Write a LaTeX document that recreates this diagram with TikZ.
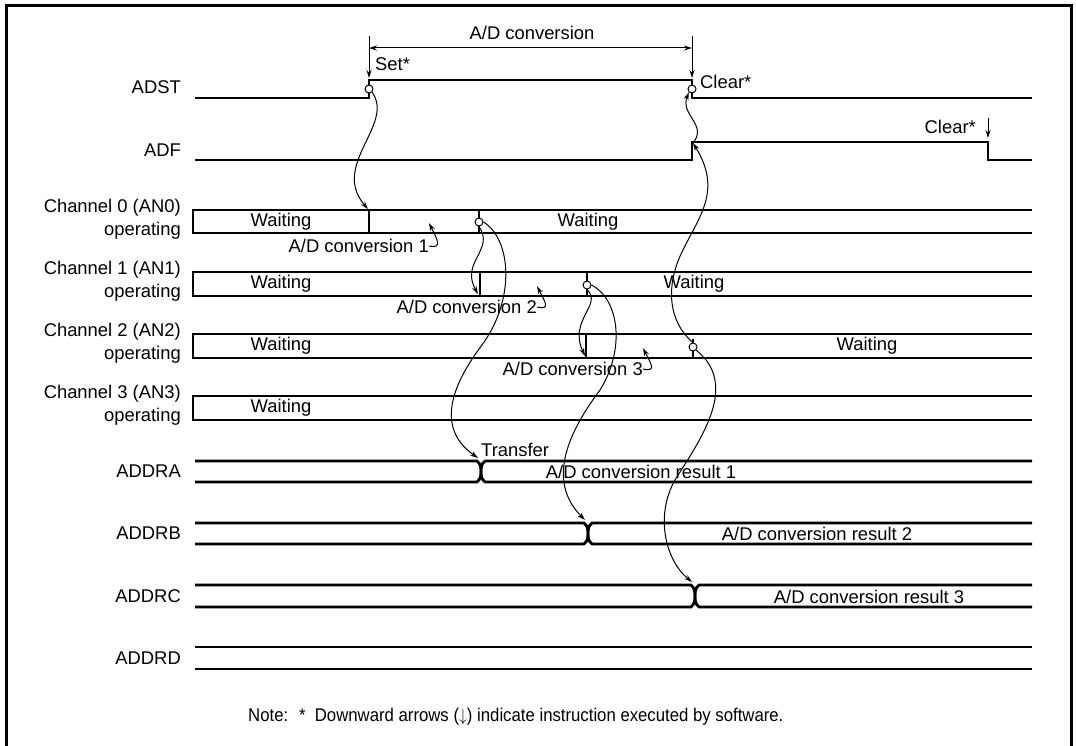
\documentclass[tikz,border=0pt]{standalone}
\usepackage{fontspec}
\setmainfont{Liberation Sans}
\usetikzlibrary{arrows.meta}
\newcommand{\xbusrow}[3]{% top, bottom, crossing x
  \draw[sig] (195,#1) -- (#3-4,#1) .. controls (#3,#1+3) and (#3,{(#1+#2)/2-3}) .. (#3,{(#1+#2)/2})
     .. controls (#3,{(#1+#2)/2+3}) and (#3,#2-3) .. (#3-4,#2) -- (195,#2);
  \draw[sig] (1032,#1) -- (#3+4,#1) .. controls (#3,#1+3) and (#3,{(#1+#2)/2-3}) .. (#3,{(#1+#2)/2})
     .. controls (#3,{(#1+#2)/2+3}) and (#3,#2-3) .. (#3+4,#2) -- (1032,#2);}
\begin{document}
\begin{tikzpicture}[x=1pt,y=-1pt,
  font=\fontsize{18.4}{22.5}\selectfont,
  sig/.style={line width=2.8pt},
  conn/.style={line width=1pt,-{Stealth[length=8pt,width=5pt]}},
  thin/.style={line width=1pt},
  frame/.style={line width=3pt},
  dot/.style={circle,draw,fill=white,inner sep=0pt,minimum size=8pt,line width=1pt},
  lbl/.style={inner sep=0pt},
  rlbl/.style={inner sep=0pt,anchor=east,align=right}]
\useasboundingbox (0,0) rectangle (1076,746);
\draw[frame] (6,746) -- (6,6) -- (1071,6) -- (1071,746);

% ---- row labels
\node[rlbl] (lADST) at (181,87) {ADST};
\node[rlbl] (lADF) at (181,150) {ADF};
\node[rlbl] (lch0) at (181,219) {Channel 0 (AN0)\\operating};
\node[rlbl] (lch1) at (181,281) {Channel 1 (AN1)\\operating};
\node[rlbl] (lch2) at (181,343) {Channel 2 (AN2)\\operating};
\node[rlbl] (lch3) at (181,405) {Channel 3 (AN3)\\operating};
\node[rlbl] (lA) at (181,471) {ADDRA};
\node[rlbl] (lB) at (181,533) {ADDRB};
\node[rlbl] (lC) at (181,596) {ADDRC};
\node[rlbl] (lD) at (181,658) {ADDRD};

% ---- ADST / ADF
\draw[sig] (195,98) -- (369,98) -- (369,80) -- (692,80) -- (692,98) -- (1032,98);
\draw[sig] (195,160) -- (692,160) -- (692,142) -- (988,142) -- (988,160) -- (1032,160);
\node[dot] (sset) at (369,89) {};
\node[dot] (sclr) at (692,89) {};
\coordinate (adfrise) at (693,143);

% ---- A/D conversion dimension
\coordinate (t1) at (369,36);
\coordinate (t2) at (692,36);
\coordinate (a1) at (369,78);
\coordinate (a2) at (692,78);
\draw[conn] (t1) -- (a1);
\draw[conn] (t2) -- (a2);
\draw[thin,{Stealth[length=8pt,width=5pt]}-{Stealth[length=8pt,width=5pt]}] (369,48) -- (692,48);
\node[lbl] (adconv) at (532,33) {A/D conversion};
\node[lbl,anchor=west] (set) at (375,64) {Set*};
\node[lbl,anchor=west] (clr1) at (700,82) {Clear*};
\node[lbl,anchor=east] (clr2) at (976,127) {Clear*};
\coordinate (ca) at (988,118);
\coordinate (cb) at (988,138);
\draw[conn] (ca) -- (cb);

% ---- channel bars
\foreach \t/\b in {210/233, 272/296, 334/358, 396/420}{
  \draw[sig] (1032,\t) -- (193,\t) -- (193,\b) -- (1032,\b);
}
% dividers
\draw[sig] (369,210) -- (369,233);
\draw[sig] (479,210) -- (479,233);
\draw[sig] (480,272) -- (480,296);
\draw[sig] (587,272) -- (587,296);
\draw[sig] (586,334) -- (586,358);
\draw[sig] (693,339) -- (693,358);
\coordinate (d0) at (368,209);
\node[dot] (c0) at (479,222) {};
\coordinate (d1) at (478,294);
\node[dot] (c1) at (587,285) {};
\coordinate (d2) at (585,356);
\node[dot] (c2) at (693,347) {};

% Waiting labels
\node[lbl] (w0a) at (281,222) {Waiting};
\node[lbl] (w0b) at (588,222) {Waiting};
\node[lbl] (w1a) at (281,284) {Waiting};
\node[lbl] (w1b) at (694,284) {Waiting};
\node[lbl] (w2a) at (281,346) {Waiting};
\node[lbl] (w2b) at (867,346) {Waiting};
\node[lbl] (w3a) at (281,408) {Waiting};

% A/D conversion n labels with hooks
\node[lbl,anchor=east] (cv1) at (429,246) {A/D conversion 1};
\node[lbl,anchor=east] (cv2) at (537,307) {A/D conversion 2};
\node[lbl,anchor=east] (cv3) at (643,369) {A/D conversion 3};
\coordinate (h1) at (429,223);
\coordinate (h2) at (537,286);
\coordinate (h3) at (643,348);
\draw[conn] (cv1.east) .. controls +(14,3) and +(8,16) .. (h1);
\draw[conn] (cv2.east) .. controls +(14,3) and +(8,16) .. (h2);
\draw[conn] (cv3.east) .. controls +(14,3) and +(8,16) .. (h3);

% ---- data registers
\xbusrow{461}{482}{481}
\xbusrow{523}{544}{588}
\xbusrow{585}{607}{695}
\draw[sig] (195,647) -- (1032,647);
\draw[sig] (195,669) -- (1032,669);
\coordinate (xA) at (478,458);
\coordinate (xB) at (585,520);
\coordinate (xC) at (692,582);
\node[lbl,anchor=west] (tr) at (481,450) {Transfer};
\node[lbl] (r1) at (641,472) {A/D conversion result 1};
\node[lbl] (r2) at (817,534) {A/D conversion result 2};
\node[lbl] (r3) at (869,597) {A/D conversion result 3};

% ---- causal connectors
\draw[conn] (sset.south east) .. controls (395,125) and (330,165) .. (d0);
\draw[conn] (adfrise) .. controls (708,125) and (680,115) .. (sclr.south west);
\draw[conn] (c2.north) .. controls (668,322) and (665,285) .. (683,250)
   .. controls (700,215) and (722,190) .. (adfrise);
\draw[conn] (c0.south) .. controls (495,250) and (460,262) .. (d1);
\draw[conn] (c0.east) .. controls (512,240) and (515,300) .. (482,345)
   .. controls (448,390) and (438,430) .. (xA);
\draw[conn] (c1.south) .. controls (603,305) and (568,320) .. (d2);
\draw[conn] (c1.east) .. controls (620,300) and (625,350) .. (600,390)
   .. controls (570,430) and (545,480) .. (xB);
\draw[conn] (c2.south east) .. controls (740,385) and (700,440) .. (675,480)
   .. controls (655,515) and (665,560) .. (xC);

% ---- note
\node[lbl,anchor=west] (note) at (248,717) {\scalebox{0.91}[1]{Note: \ * \ Downward arrows ($\downarrow$) indicate instruction executed by software.}};
\end{tikzpicture}
\end{document}
